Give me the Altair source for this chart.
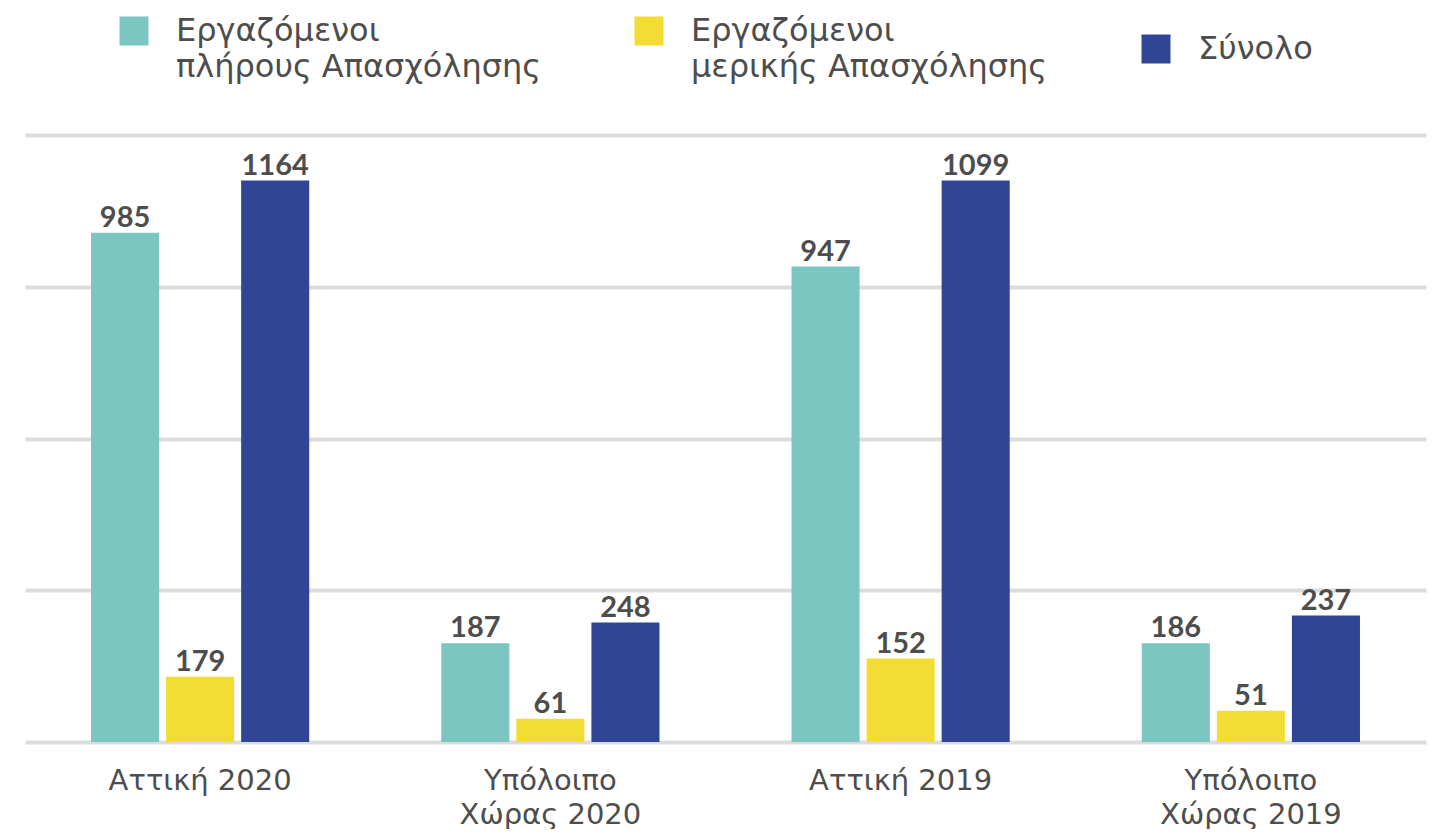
import altair as alt
import pandas as pd

categories = ["Αττική 2020", "Υπόλοιπο Χώρας 2020", "Αττική 2019", "Υπόλοιπο Χώρας 2019"]
series = ["Εργαζόμενοι πλήρους Απασχόλησης", "Εργαζόμενοι μερικής Απασχόλησης", "Σύνολο"]
colors = ["#7BC6C0", "#F3DC33", "#304694"]

# printed value labels
label_full = [985, 187, 947, 186]
label_part = [179, 61, 152, 51]
label_total = [1164, 248, 1099, 237]

# bar heights as drawn in the picture (gridline step = 300)
height_full = [1007, 195, 940, 195]
height_part = [129, 46, 165, 62]
height_total = [1110, 236, 1110, 250]

rows = []
for i, c in enumerate(categories):
    for s, lab, h in zip(series,
                         [label_full[i], label_part[i], label_total[i]],
                         [height_full[i], height_part[i], height_total[i]]):
        rows.append({"category": c, "series": s, "value": lab, "height": h})
df = pd.DataFrame(rows)

TEXT = "#4D4D4D"

x_enc = alt.X(
    "category:N", sort=categories, title=None,
    scale=alt.Scale(paddingInner=0.377, paddingOuter=0.1885),
    axis=alt.Axis(
        labelAngle=0, domain=False, ticks=False, tickSize=0, grid=False,
        labelFont="DejaVu Sans", labelFontSize=29, labelColor=TEXT,
        labelPadding=24, labelLineHeight=34, labelBaseline="top", labelLimit=500,
        labelExpr="indexof(datum.label, 'Υπόλοιπο') >= 0 ? ['Υπόλοιπο', replace(datum.label, 'Υπόλοιπο ', '')] : datum.label",
    ),
)
xo_enc = alt.XOffset("series:N", sort=series, scale=alt.Scale(paddingInner=0.093, paddingOuter=0))
y_enc = alt.Y(
    "height:Q", title=None,
    scale=alt.Scale(domain=[0, 1200], nice=False, zero=True),
    axis=alt.Axis(values=[0, 300, 600, 900, 1200], labels=False, ticks=False, domain=False,
                  grid=True, gridColor="#DCDCDC", gridWidth=4),
)

base = alt.Chart(df).encode(x=x_enc, xOffset=xo_enc)

bars = base.mark_bar().encode(
    y=y_enc,
    color=alt.Color(
        "series:N", sort=series,
        scale=alt.Scale(domain=series, range=colors),
        legend=alt.Legend(
            title=None, orient="none", legendX=93, legendY=-120,
            direction="horizontal", columns=3, columnPadding=92,
            symbolType="square", symbolSize=841, symbolStrokeWidth=0, symbolOpacity=1,
            labelFont="DejaVu Sans", labelFontSize=32, labelColor=TEXT,
            labelOffset=26, labelLimit=700,
            labelExpr="datum.label == 'Σύνολο' ? datum.label : [slice(datum.label, 0, indexof(datum.label, ' ')), slice(datum.label, indexof(datum.label, ' ') + 1)]",
        ),
    ),
)

labels = base.mark_text(
    font="Lato", fontWeight="bold", fontSize=29, color=TEXT,
    baseline="alphabetic", dy=-6,
).encode(
    y=alt.Y("height:Q"),
    text=alt.Text("value:Q"),
)

chart = (
    alt.layer(bars, labels)
    .properties(
        width=1401, height=607,
        padding={"left": 17, "top": 127, "right": 2, "bottom": 87},
        autosize=alt.AutoSizeParams(type="none"),
    )
    .configure(style={"guide-label": {"lineHeight": 36}})
    .configure_view(stroke=None)
)

chart.save("out.html", embed_options={"renderer": "svg", "actions": False})
